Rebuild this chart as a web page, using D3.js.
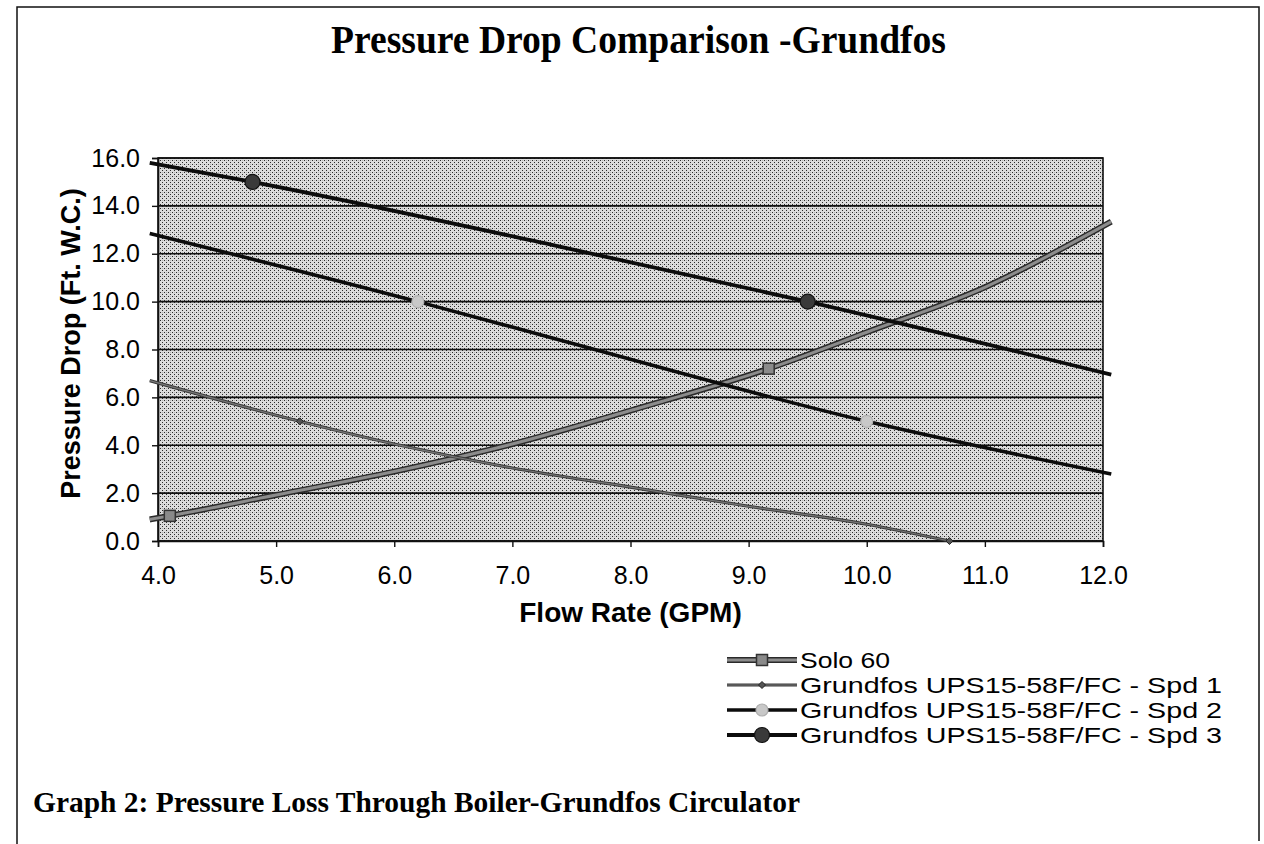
<!DOCTYPE html>
<html>
<head>
<meta charset="utf-8">
<script src="https://cdn.jsdelivr.net/npm/d3@7"></script>
<style>
  body { margin: 0; background: #fff; }
  text { font-family: "Liberation Sans", Arial, sans-serif; fill: #000; }
  .serif { font-family: "Liberation Serif", "Times New Roman", serif; font-weight: bold; }
</style>
</head>
<body>
<div id="chart"></div>
<script>
// values
const seriesNames = [
  'Solo 60',
  'Grundfos UPS15-58F/FC - Spd 1',
  'Grundfos UPS15-58F/FC - Spd 2',
  'Grundfos UPS15-58F/FC - Spd 3'
];
const solo60Line = [[3.93,0.9],[4.1,1.05],[5.0,1.92],[6.0,2.9],[7.0,4.05],[8.0,5.45],[9.17,7.2],[10.0,8.72],[11.0,10.6],[12.07,13.34]];
const solo60Marks = [[4.1,1.05],[9.17,7.2]];
const spd1Line = [[3.93,6.7],[5.2,5.0],[6.0,4.05],[7.0,3.05],[8.0,2.25],[9.0,1.45],[10.0,0.7],[10.7,0.0]];
const spd1Marks = [[5.2,5.0],[10.7,0.0]];
const spd2Line = [[3.93,12.85],[6.2,10.0],[7.4,8.4],[10.0,5.0],[12.07,2.8]];
const spd2Marks = [[6.2,10.0],[10.0,5.0]];
const spd3Line = [[3.93,15.8],[4.8,15.0],[7.4,12.3],[9.5,10.0],[12.07,6.95]];
const spd3Marks = [[4.8,15.0],[9.5,10.0]];
const xDomain = [4, 12];
const yDomain = [0, 16];

const width = 1264, height = 844;
const plot = {left: 158, top: 158, right: 1103, bottom: 541};

const svg = d3.select('#chart').append('svg').attr('width', width).attr('height', height);

// dotted halftone fill for the plot area
const defs = svg.append('defs');
const pat = defs.append('pattern').attr('id', 'dots').attr('patternUnits', 'userSpaceOnUse')
  .attr('width', 4).attr('height', 4);
pat.append('rect').attr('width', 4).attr('height', 4).attr('fill', '#dcdcdc');
pat.append('rect').attr('x', 0).attr('y', 0).attr('width', 1).attr('height', 1).attr('fill', '#2a2a2a');
pat.append('rect').attr('x', 2).attr('y', 2).attr('width', 1).attr('height', 1).attr('fill', '#2a2a2a');
pat.append('rect').attr('x', 2).attr('y', 0).attr('width', 1).attr('height', 1).attr('fill', '#b4b4b4');

// page frame
svg.append('path').attr('d', `M17,${height} V7 H1259 V841`)
  .attr('fill', 'none').attr('stroke', '#111').attr('stroke-width', 1.5);

const x = d3.scaleLinear().domain(xDomain).range([plot.left, plot.right]);
const y = d3.scaleLinear().domain(yDomain).range([plot.bottom, plot.top]);

svg.append('rect').attr('x', plot.left).attr('y', plot.top)
  .attr('width', plot.right - plot.left).attr('height', plot.bottom - plot.top)
  .attr('fill', 'url(#dots)');

// horizontal gridlines
svg.append('g').selectAll('line').data(y.ticks(8)).join('line')
  .attr('x1', plot.left).attr('x2', plot.right)
  .attr('y1', d => y(d)).attr('y2', d => y(d))
  .attr('stroke', '#111').attr('stroke-width', 1.6);

svg.append('rect').attr('x', plot.left).attr('y', plot.top)
  .attr('width', plot.right - plot.left).attr('height', plot.bottom - plot.top)
  .attr('fill', 'none').attr('stroke', '#111').attr('stroke-width', 1.6);

// axes
const yAxis = svg.append('g').attr('transform', `translate(${plot.left},0)`)
  .call(d3.axisLeft(y).ticks(8).tickFormat(d3.format('.1f')).tickSize(6).tickPadding(10));
const xAxis = svg.append('g').attr('transform', `translate(0,${plot.bottom})`)
  .call(d3.axisBottom(x).ticks(8).tickFormat(d3.format('.1f')).tickSize(6).tickPadding(19));
[xAxis, yAxis].forEach(a => {
  a.select('.domain').attr('stroke', '#111').attr('stroke-width', 1.6);
  a.selectAll('.tick line').attr('stroke', '#111').attr('stroke-width', 1.4);
  a.selectAll('.tick text').attr('font-size', 25).attr('font-family', 'Liberation Sans, Arial, sans-serif').attr('fill', '#000');
});
yAxis.selectAll('.tick text').attr('dx', -2);

// axis titles
svg.append('text').attr('x', (plot.left + plot.right) / 2).attr('y', 622)
  .attr('text-anchor', 'middle').attr('font-size', 28).attr('font-weight', 'bold')
  .text('Flow Rate (GPM)');
svg.append('text').attr('transform', `translate(80,${(plot.top + plot.bottom) / 2 - 6}) rotate(-90)`)
  .attr('text-anchor', 'middle').attr('font-size', 27).attr('font-weight', 'bold')
  .text('Pressure Drop (Ft. W.C.)');

// titles
svg.append('text').attr('class', 'serif').attr('x', 331).attr('y', 53)
  .attr('font-size', 40).attr('textLength', 615).attr('lengthAdjust', 'spacingAndGlyphs')
  .text('Pressure Drop Comparison -Grundfos');
svg.append('text').attr('class', 'serif').attr('x', 33).attr('y', 812)
  .attr('font-size', 30).attr('textLength', 767).attr('lengthAdjust', 'spacingAndGlyphs')
  .text('Graph 2: Pressure Loss Through Boiler-Grundfos Circulator');

const line = d3.line().x(d => x(d[0])).y(d => y(d[1])).curve(d3.curveMonotoneX);

// series styles: stroke layers + marker
const series = [
  {name: seriesNames[0], pts: solo60Line, marks: solo60Marks, labelW: 90,
   strokes: [['#2a2a2a', 6], ['#8c8c8c', 3]], marker: 'square', size: 11, fill: '#8a8a8a', edge: '#333'},
  {name: seriesNames[1], pts: spd1Line, marks: spd1Marks, labelW: 422,
   strokes: [['#3a3a3a', 3.2], ['#777', 1.2]], marker: 'diamond', size: 7, fill: '#555', edge: '#222'},
  {name: seriesNames[2], pts: spd2Line, marks: spd2Marks, labelW: 422,
   strokes: [['#0c0c0c', 3.6]], marker: 'circle', size: 12, fill: '#c8c8c8', edge: '#b0b0b0'},
  {name: seriesNames[3], pts: spd3Line, marks: spd3Marks, labelW: 422,
   strokes: [['#0c0c0c', 3.8]], marker: 'circle', size: 15, fill: '#3a3a3a', edge: '#111'}
];

function drawMarker(g, s, cx, cy) {
  if (s.marker === 'square') {
    g.append('rect').attr('x', cx - s.size / 2).attr('y', cy - s.size / 2)
      .attr('width', s.size).attr('height', s.size)
      .attr('fill', s.fill).attr('stroke', s.edge).attr('stroke-width', 1.5);
  } else if (s.marker === 'diamond') {
    const r = s.size / 2;
    g.append('path').attr('d', `M${cx},${cy - r}L${cx + r},${cy}L${cx},${cy + r}L${cx - r},${cy}Z`)
      .attr('fill', s.fill).attr('stroke', s.edge).attr('stroke-width', 1);
  } else {
    g.append('circle').attr('cx', cx).attr('cy', cy).attr('r', s.size / 2)
      .attr('fill', s.fill).attr('stroke', s.edge).attr('stroke-width', 1.2);
  }
}

const lines = svg.append('g');
series.forEach(s => {
  s.strokes.forEach(([c, w]) => {
    lines.append('path').datum(s.pts).attr('d', line)
      .attr('fill', 'none').attr('stroke', c).attr('stroke-width', w);
  });
  s.marks.forEach(m => drawMarker(lines, s, x(m[0]), y(m[1])));
});

// legend
const legend = svg.append('g').attr('transform', 'translate(727,660)');
series.forEach((s, i) => {
  const row = legend.append('g').attr('transform', `translate(0,${i * 25})`);
  s.strokes.forEach(([c, w]) => {
    row.append('line').attr('x1', 0).attr('x2', 70).attr('y1', 0).attr('y2', 0)
      .attr('stroke', c).attr('stroke-width', w);
  });
  drawMarker(row, s, 35, 0);
  row.append('text').attr('x', 73).attr('y', 8).attr('font-size', 22.5)
    .attr('textLength', s.labelW).attr('lengthAdjust', 'spacingAndGlyphs').text(s.name);
});
</script>
</body>
</html>
